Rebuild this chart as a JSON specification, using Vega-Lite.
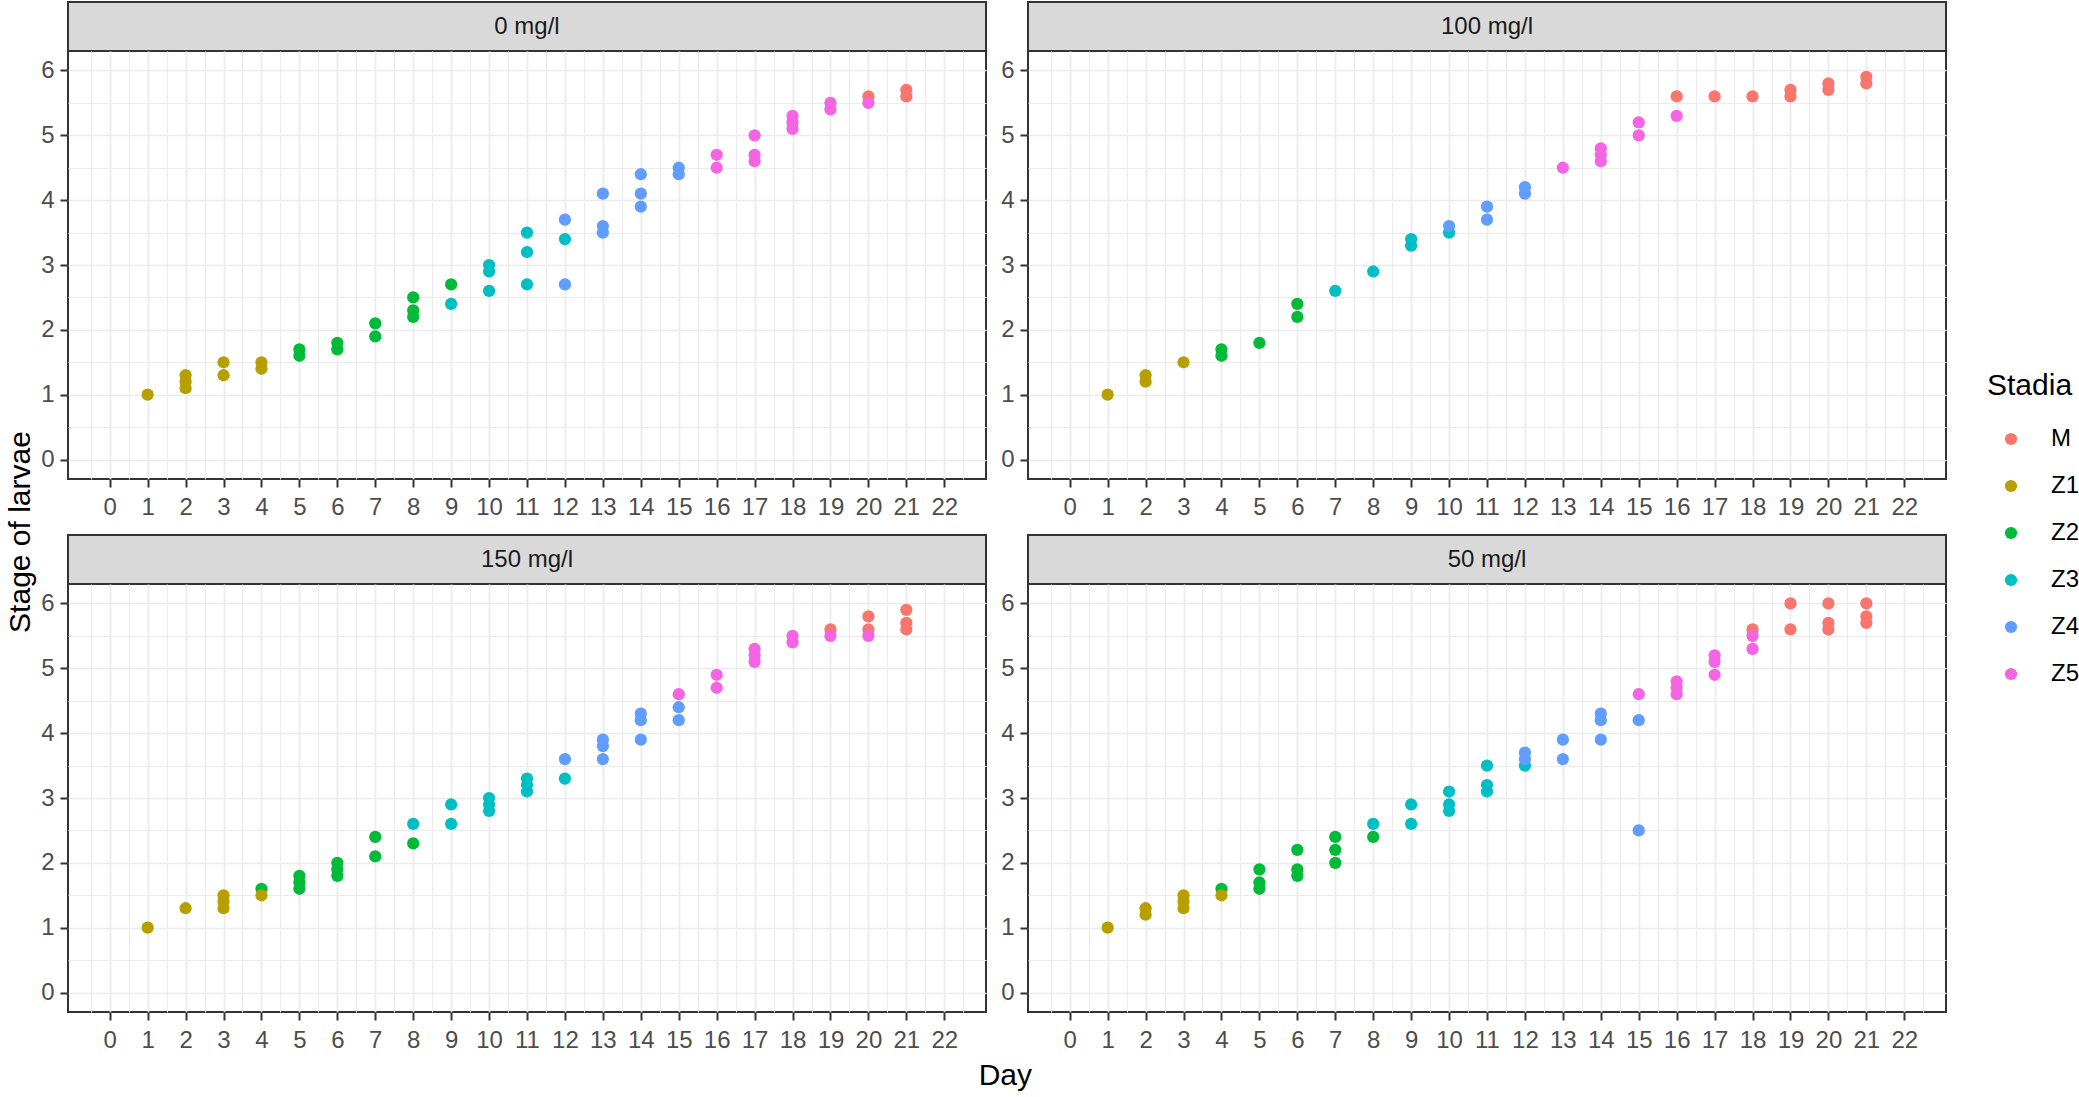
{
  "$schema": "https://vega.github.io/schema/vega-lite/v6.json",
  "background": "white",
  "padding": {"left": 5, "top": 1, "right": 2, "bottom": 5},
  "title": {"text": "Stage of larvae", "orient": "left", "anchor": "middle", "font": "Liberation Sans", "fontSize": 30, "fontWeight": "normal", "color": "#000000", "offset": 4, "dx": 14},
  "datasets": {
    "larvae": [
      {"conc": "0 mg/l", "day": 1, "stage": 1.0, "stadia": "Z1"},
      {"conc": "0 mg/l", "day": 2, "stage": 1.1, "stadia": "Z1"},
      {"conc": "0 mg/l", "day": 2, "stage": 1.2, "stadia": "Z1"},
      {"conc": "0 mg/l", "day": 2, "stage": 1.3, "stadia": "Z1"},
      {"conc": "0 mg/l", "day": 3, "stage": 1.3, "stadia": "Z1"},
      {"conc": "0 mg/l", "day": 3, "stage": 1.5, "stadia": "Z1"},
      {"conc": "0 mg/l", "day": 4, "stage": 1.4, "stadia": "Z1"},
      {"conc": "0 mg/l", "day": 4, "stage": 1.5, "stadia": "Z1"},
      {"conc": "0 mg/l", "day": 5, "stage": 1.6, "stadia": "Z2"},
      {"conc": "0 mg/l", "day": 5, "stage": 1.7, "stadia": "Z2"},
      {"conc": "0 mg/l", "day": 6, "stage": 1.7, "stadia": "Z2"},
      {"conc": "0 mg/l", "day": 6, "stage": 1.8, "stadia": "Z2"},
      {"conc": "0 mg/l", "day": 7, "stage": 1.9, "stadia": "Z2"},
      {"conc": "0 mg/l", "day": 7, "stage": 2.1, "stadia": "Z2"},
      {"conc": "0 mg/l", "day": 8, "stage": 2.2, "stadia": "Z2"},
      {"conc": "0 mg/l", "day": 8, "stage": 2.3, "stadia": "Z2"},
      {"conc": "0 mg/l", "day": 8, "stage": 2.5, "stadia": "Z2"},
      {"conc": "0 mg/l", "day": 9, "stage": 2.7, "stadia": "Z2"},
      {"conc": "0 mg/l", "day": 9, "stage": 2.4, "stadia": "Z3"},
      {"conc": "0 mg/l", "day": 10, "stage": 2.6, "stadia": "Z3"},
      {"conc": "0 mg/l", "day": 10, "stage": 2.9, "stadia": "Z3"},
      {"conc": "0 mg/l", "day": 10, "stage": 3.0, "stadia": "Z3"},
      {"conc": "0 mg/l", "day": 11, "stage": 2.7, "stadia": "Z3"},
      {"conc": "0 mg/l", "day": 11, "stage": 3.2, "stadia": "Z3"},
      {"conc": "0 mg/l", "day": 11, "stage": 3.5, "stadia": "Z3"},
      {"conc": "0 mg/l", "day": 12, "stage": 3.4, "stadia": "Z3"},
      {"conc": "0 mg/l", "day": 12, "stage": 2.7, "stadia": "Z4"},
      {"conc": "0 mg/l", "day": 12, "stage": 3.7, "stadia": "Z4"},
      {"conc": "0 mg/l", "day": 13, "stage": 3.5, "stadia": "Z4"},
      {"conc": "0 mg/l", "day": 13, "stage": 3.6, "stadia": "Z4"},
      {"conc": "0 mg/l", "day": 13, "stage": 4.1, "stadia": "Z4"},
      {"conc": "0 mg/l", "day": 14, "stage": 3.9, "stadia": "Z4"},
      {"conc": "0 mg/l", "day": 14, "stage": 4.1, "stadia": "Z4"},
      {"conc": "0 mg/l", "day": 14, "stage": 4.4, "stadia": "Z4"},
      {"conc": "0 mg/l", "day": 15, "stage": 4.4, "stadia": "Z4"},
      {"conc": "0 mg/l", "day": 15, "stage": 4.5, "stadia": "Z4"},
      {"conc": "0 mg/l", "day": 16, "stage": 4.5, "stadia": "Z5"},
      {"conc": "0 mg/l", "day": 16, "stage": 4.7, "stadia": "Z5"},
      {"conc": "0 mg/l", "day": 17, "stage": 4.6, "stadia": "Z5"},
      {"conc": "0 mg/l", "day": 17, "stage": 4.7, "stadia": "Z5"},
      {"conc": "0 mg/l", "day": 17, "stage": 5.0, "stadia": "Z5"},
      {"conc": "0 mg/l", "day": 18, "stage": 5.1, "stadia": "Z5"},
      {"conc": "0 mg/l", "day": 18, "stage": 5.2, "stadia": "Z5"},
      {"conc": "0 mg/l", "day": 18, "stage": 5.3, "stadia": "Z5"},
      {"conc": "0 mg/l", "day": 19, "stage": 5.4, "stadia": "Z5"},
      {"conc": "0 mg/l", "day": 19, "stage": 5.5, "stadia": "Z5"},
      {"conc": "0 mg/l", "day": 20, "stage": 5.6, "stadia": "M"},
      {"conc": "0 mg/l", "day": 20, "stage": 5.5, "stadia": "Z5"},
      {"conc": "0 mg/l", "day": 21, "stage": 5.6, "stadia": "M"},
      {"conc": "0 mg/l", "day": 21, "stage": 5.7, "stadia": "M"},

      {"conc": "100 mg/l", "day": 1, "stage": 1.0, "stadia": "Z1"},
      {"conc": "100 mg/l", "day": 2, "stage": 1.2, "stadia": "Z1"},
      {"conc": "100 mg/l", "day": 2, "stage": 1.3, "stadia": "Z1"},
      {"conc": "100 mg/l", "day": 3, "stage": 1.5, "stadia": "Z1"},
      {"conc": "100 mg/l", "day": 4, "stage": 1.6, "stadia": "Z2"},
      {"conc": "100 mg/l", "day": 4, "stage": 1.7, "stadia": "Z2"},
      {"conc": "100 mg/l", "day": 5, "stage": 1.8, "stadia": "Z2"},
      {"conc": "100 mg/l", "day": 6, "stage": 2.2, "stadia": "Z2"},
      {"conc": "100 mg/l", "day": 6, "stage": 2.4, "stadia": "Z2"},
      {"conc": "100 mg/l", "day": 7, "stage": 2.6, "stadia": "Z3"},
      {"conc": "100 mg/l", "day": 8, "stage": 2.9, "stadia": "Z3"},
      {"conc": "100 mg/l", "day": 9, "stage": 3.3, "stadia": "Z3"},
      {"conc": "100 mg/l", "day": 9, "stage": 3.4, "stadia": "Z3"},
      {"conc": "100 mg/l", "day": 10, "stage": 3.5, "stadia": "Z3"},
      {"conc": "100 mg/l", "day": 10, "stage": 3.6, "stadia": "Z4"},
      {"conc": "100 mg/l", "day": 11, "stage": 3.7, "stadia": "Z4"},
      {"conc": "100 mg/l", "day": 11, "stage": 3.9, "stadia": "Z4"},
      {"conc": "100 mg/l", "day": 12, "stage": 4.1, "stadia": "Z4"},
      {"conc": "100 mg/l", "day": 12, "stage": 4.2, "stadia": "Z4"},
      {"conc": "100 mg/l", "day": 13, "stage": 4.5, "stadia": "Z5"},
      {"conc": "100 mg/l", "day": 14, "stage": 4.6, "stadia": "Z5"},
      {"conc": "100 mg/l", "day": 14, "stage": 4.7, "stadia": "Z5"},
      {"conc": "100 mg/l", "day": 14, "stage": 4.8, "stadia": "Z5"},
      {"conc": "100 mg/l", "day": 15, "stage": 5.0, "stadia": "Z5"},
      {"conc": "100 mg/l", "day": 15, "stage": 5.2, "stadia": "Z5"},
      {"conc": "100 mg/l", "day": 16, "stage": 5.6, "stadia": "M"},
      {"conc": "100 mg/l", "day": 16, "stage": 5.3, "stadia": "Z5"},
      {"conc": "100 mg/l", "day": 17, "stage": 5.6, "stadia": "M"},
      {"conc": "100 mg/l", "day": 18, "stage": 5.6, "stadia": "M"},
      {"conc": "100 mg/l", "day": 19, "stage": 5.6, "stadia": "M"},
      {"conc": "100 mg/l", "day": 19, "stage": 5.7, "stadia": "M"},
      {"conc": "100 mg/l", "day": 20, "stage": 5.7, "stadia": "M"},
      {"conc": "100 mg/l", "day": 20, "stage": 5.8, "stadia": "M"},
      {"conc": "100 mg/l", "day": 21, "stage": 5.8, "stadia": "M"},
      {"conc": "100 mg/l", "day": 21, "stage": 5.9, "stadia": "M"},

      {"conc": "150 mg/l", "day": 1, "stage": 1.0, "stadia": "Z1"},
      {"conc": "150 mg/l", "day": 2, "stage": 1.3, "stadia": "Z1"},
      {"conc": "150 mg/l", "day": 3, "stage": 1.3, "stadia": "Z1"},
      {"conc": "150 mg/l", "day": 3, "stage": 1.4, "stadia": "Z1"},
      {"conc": "150 mg/l", "day": 3, "stage": 1.5, "stadia": "Z1"},
      {"conc": "150 mg/l", "day": 4, "stage": 1.6, "stadia": "Z2"},
      {"conc": "150 mg/l", "day": 4, "stage": 1.5, "stadia": "Z1"},
      {"conc": "150 mg/l", "day": 5, "stage": 1.6, "stadia": "Z2"},
      {"conc": "150 mg/l", "day": 5, "stage": 1.7, "stadia": "Z2"},
      {"conc": "150 mg/l", "day": 5, "stage": 1.8, "stadia": "Z2"},
      {"conc": "150 mg/l", "day": 6, "stage": 1.8, "stadia": "Z2"},
      {"conc": "150 mg/l", "day": 6, "stage": 1.9, "stadia": "Z2"},
      {"conc": "150 mg/l", "day": 6, "stage": 2.0, "stadia": "Z2"},
      {"conc": "150 mg/l", "day": 7, "stage": 2.1, "stadia": "Z2"},
      {"conc": "150 mg/l", "day": 7, "stage": 2.4, "stadia": "Z2"},
      {"conc": "150 mg/l", "day": 8, "stage": 2.3, "stadia": "Z2"},
      {"conc": "150 mg/l", "day": 8, "stage": 2.6, "stadia": "Z3"},
      {"conc": "150 mg/l", "day": 9, "stage": 2.6, "stadia": "Z3"},
      {"conc": "150 mg/l", "day": 9, "stage": 2.9, "stadia": "Z3"},
      {"conc": "150 mg/l", "day": 10, "stage": 2.8, "stadia": "Z3"},
      {"conc": "150 mg/l", "day": 10, "stage": 2.9, "stadia": "Z3"},
      {"conc": "150 mg/l", "day": 10, "stage": 3.0, "stadia": "Z3"},
      {"conc": "150 mg/l", "day": 11, "stage": 3.1, "stadia": "Z3"},
      {"conc": "150 mg/l", "day": 11, "stage": 3.2, "stadia": "Z3"},
      {"conc": "150 mg/l", "day": 11, "stage": 3.3, "stadia": "Z3"},
      {"conc": "150 mg/l", "day": 12, "stage": 3.3, "stadia": "Z3"},
      {"conc": "150 mg/l", "day": 12, "stage": 3.6, "stadia": "Z4"},
      {"conc": "150 mg/l", "day": 13, "stage": 3.6, "stadia": "Z4"},
      {"conc": "150 mg/l", "day": 13, "stage": 3.8, "stadia": "Z4"},
      {"conc": "150 mg/l", "day": 13, "stage": 3.9, "stadia": "Z4"},
      {"conc": "150 mg/l", "day": 14, "stage": 3.9, "stadia": "Z4"},
      {"conc": "150 mg/l", "day": 14, "stage": 4.2, "stadia": "Z4"},
      {"conc": "150 mg/l", "day": 14, "stage": 4.3, "stadia": "Z4"},
      {"conc": "150 mg/l", "day": 15, "stage": 4.2, "stadia": "Z4"},
      {"conc": "150 mg/l", "day": 15, "stage": 4.4, "stadia": "Z4"},
      {"conc": "150 mg/l", "day": 15, "stage": 4.6, "stadia": "Z5"},
      {"conc": "150 mg/l", "day": 16, "stage": 4.7, "stadia": "Z5"},
      {"conc": "150 mg/l", "day": 16, "stage": 4.9, "stadia": "Z5"},
      {"conc": "150 mg/l", "day": 17, "stage": 5.1, "stadia": "Z5"},
      {"conc": "150 mg/l", "day": 17, "stage": 5.2, "stadia": "Z5"},
      {"conc": "150 mg/l", "day": 17, "stage": 5.3, "stadia": "Z5"},
      {"conc": "150 mg/l", "day": 18, "stage": 5.4, "stadia": "Z5"},
      {"conc": "150 mg/l", "day": 18, "stage": 5.5, "stadia": "Z5"},
      {"conc": "150 mg/l", "day": 19, "stage": 5.6, "stadia": "M"},
      {"conc": "150 mg/l", "day": 19, "stage": 5.5, "stadia": "Z5"},
      {"conc": "150 mg/l", "day": 20, "stage": 5.6, "stadia": "M"},
      {"conc": "150 mg/l", "day": 20, "stage": 5.8, "stadia": "M"},
      {"conc": "150 mg/l", "day": 20, "stage": 5.5, "stadia": "Z5"},
      {"conc": "150 mg/l", "day": 21, "stage": 5.6, "stadia": "M"},
      {"conc": "150 mg/l", "day": 21, "stage": 5.7, "stadia": "M"},
      {"conc": "150 mg/l", "day": 21, "stage": 5.9, "stadia": "M"},

      {"conc": "50 mg/l", "day": 1, "stage": 1.0, "stadia": "Z1"},
      {"conc": "50 mg/l", "day": 2, "stage": 1.2, "stadia": "Z1"},
      {"conc": "50 mg/l", "day": 2, "stage": 1.3, "stadia": "Z1"},
      {"conc": "50 mg/l", "day": 3, "stage": 1.3, "stadia": "Z1"},
      {"conc": "50 mg/l", "day": 3, "stage": 1.4, "stadia": "Z1"},
      {"conc": "50 mg/l", "day": 3, "stage": 1.5, "stadia": "Z1"},
      {"conc": "50 mg/l", "day": 4, "stage": 1.6, "stadia": "Z2"},
      {"conc": "50 mg/l", "day": 4, "stage": 1.5, "stadia": "Z1"},
      {"conc": "50 mg/l", "day": 5, "stage": 1.6, "stadia": "Z2"},
      {"conc": "50 mg/l", "day": 5, "stage": 1.7, "stadia": "Z2"},
      {"conc": "50 mg/l", "day": 5, "stage": 1.9, "stadia": "Z2"},
      {"conc": "50 mg/l", "day": 6, "stage": 1.8, "stadia": "Z2"},
      {"conc": "50 mg/l", "day": 6, "stage": 1.9, "stadia": "Z2"},
      {"conc": "50 mg/l", "day": 6, "stage": 2.2, "stadia": "Z2"},
      {"conc": "50 mg/l", "day": 7, "stage": 2.0, "stadia": "Z2"},
      {"conc": "50 mg/l", "day": 7, "stage": 2.2, "stadia": "Z2"},
      {"conc": "50 mg/l", "day": 7, "stage": 2.4, "stadia": "Z2"},
      {"conc": "50 mg/l", "day": 8, "stage": 2.4, "stadia": "Z2"},
      {"conc": "50 mg/l", "day": 8, "stage": 2.6, "stadia": "Z3"},
      {"conc": "50 mg/l", "day": 9, "stage": 2.6, "stadia": "Z3"},
      {"conc": "50 mg/l", "day": 9, "stage": 2.9, "stadia": "Z3"},
      {"conc": "50 mg/l", "day": 10, "stage": 2.8, "stadia": "Z3"},
      {"conc": "50 mg/l", "day": 10, "stage": 2.9, "stadia": "Z3"},
      {"conc": "50 mg/l", "day": 10, "stage": 3.1, "stadia": "Z3"},
      {"conc": "50 mg/l", "day": 11, "stage": 3.1, "stadia": "Z3"},
      {"conc": "50 mg/l", "day": 11, "stage": 3.2, "stadia": "Z3"},
      {"conc": "50 mg/l", "day": 11, "stage": 3.5, "stadia": "Z3"},
      {"conc": "50 mg/l", "day": 12, "stage": 3.5, "stadia": "Z3"},
      {"conc": "50 mg/l", "day": 12, "stage": 3.6, "stadia": "Z4"},
      {"conc": "50 mg/l", "day": 12, "stage": 3.7, "stadia": "Z4"},
      {"conc": "50 mg/l", "day": 13, "stage": 3.6, "stadia": "Z4"},
      {"conc": "50 mg/l", "day": 13, "stage": 3.9, "stadia": "Z4"},
      {"conc": "50 mg/l", "day": 14, "stage": 3.9, "stadia": "Z4"},
      {"conc": "50 mg/l", "day": 14, "stage": 4.2, "stadia": "Z4"},
      {"conc": "50 mg/l", "day": 14, "stage": 4.3, "stadia": "Z4"},
      {"conc": "50 mg/l", "day": 15, "stage": 2.5, "stadia": "Z4"},
      {"conc": "50 mg/l", "day": 15, "stage": 4.2, "stadia": "Z4"},
      {"conc": "50 mg/l", "day": 15, "stage": 4.6, "stadia": "Z5"},
      {"conc": "50 mg/l", "day": 16, "stage": 4.6, "stadia": "Z5"},
      {"conc": "50 mg/l", "day": 16, "stage": 4.7, "stadia": "Z5"},
      {"conc": "50 mg/l", "day": 16, "stage": 4.8, "stadia": "Z5"},
      {"conc": "50 mg/l", "day": 17, "stage": 4.9, "stadia": "Z5"},
      {"conc": "50 mg/l", "day": 17, "stage": 5.1, "stadia": "Z5"},
      {"conc": "50 mg/l", "day": 17, "stage": 5.2, "stadia": "Z5"},
      {"conc": "50 mg/l", "day": 18, "stage": 5.6, "stadia": "M"},
      {"conc": "50 mg/l", "day": 18, "stage": 5.5, "stadia": "Z5"},
      {"conc": "50 mg/l", "day": 18, "stage": 5.3, "stadia": "Z5"},
      {"conc": "50 mg/l", "day": 19, "stage": 5.6, "stadia": "M"},
      {"conc": "50 mg/l", "day": 19, "stage": 6.0, "stadia": "M"},
      {"conc": "50 mg/l", "day": 20, "stage": 5.6, "stadia": "M"},
      {"conc": "50 mg/l", "day": 20, "stage": 5.7, "stadia": "M"},
      {"conc": "50 mg/l", "day": 20, "stage": 6.0, "stadia": "M"},
      {"conc": "50 mg/l", "day": 21, "stage": 5.7, "stadia": "M"},
      {"conc": "50 mg/l", "day": 21, "stage": 5.8, "stadia": "M"},
      {"conc": "50 mg/l", "day": 21, "stage": 6.0, "stadia": "M"}
    ]
  },
  "vconcat": [
    {
      "title": {"text": "Day", "orient": "bottom", "anchor": "middle", "font": "Liberation Sans", "fontSize": 30, "fontWeight": "normal", "color": "#000000", "offset": 8, "dx": 12},
      "spacing": 14,
      "vconcat": [
        {
          "spacing": 12,
          "hconcat": [
            {
              "bounds": "flush",
              "spacing": 0,
              "vconcat": [
                {
                  "width": 918, "height": 49,
                  "data": {"name": "larvae"},
                  "transform": [{"filter": {"field": "conc", "equal": "0 mg/l"}}, {"aggregate": [{"op": "count", "as": "n"}], "groupby": ["conc"]}],
                  "mark": {"type": "text", "fontSize": 24, "color": "#1A1A1A", "font": "Liberation Sans"},
                  "encoding": {"text": {"field": "conc", "type": "nominal"}},
                  "view": {"fill": "#D9D9D9", "stroke": "#333333", "strokeWidth": 2}
                },
                {
                  "width": 918, "height": 428,
                  "data": {"name": "larvae"},
                  "transform": [{"filter": {"field": "conc", "equal": "0 mg/l"}}],
                  "mark": {"type": "circle", "size": 150, "opacity": 1},
                  "encoding": {
                    "x": {"field": "day", "type": "quantitative", "scale": {"domain": [-1.1, 23.1], "nice": false, "zero": false},
                      "axis": {"title": null, "values": [-0.5,0,0.5,1,1.5,2,2.5,3,3.5,4,4.5,5,5.5,6,6.5,7,7.5,8,8.5,9,9.5,10,10.5,11,11.5,12,12.5,13,13.5,14,14.5,15,15.5,16,16.5,17,17.5,18,18.5,19,19.5,20,20.5,21,21.5,22,22.5],
                        "labelExpr": "datum.value % 1 === 0 ? '' + datum.value : ''", "labelPadding": 8,
                        "tickOpacity": {"condition": {"test": "datum.value % 1 !== 0", "value": 0}, "value": 1},
                        "gridWidth": {"condition": {"test": "datum.value % 1 !== 0", "value": 1.1}, "value": 1.7}}},
                    "y": {"field": "stage", "type": "quantitative", "scale": {"domain": [-0.3, 6.3], "nice": false, "zero": false},
                      "axis": {"title": null, "values": [0,0.5,1,1.5,2,2.5,3,3.5,4,4.5,5,5.5,6],
                        "labelExpr": "datum.value % 1 === 0 ? '' + datum.value : ''", "labelPadding": 6,
                        "tickOpacity": {"condition": {"test": "datum.value % 1 !== 0", "value": 0}, "value": 1},
                        "gridWidth": {"condition": {"test": "datum.value % 1 !== 0", "value": 1.1}, "value": 1.7}}},
                    "color": {"field": "stadia", "type": "nominal", "scale": {"domain": ["M","Z1","Z2","Z3","Z4","Z5"], "range": ["#F8766D","#B79F00","#00BA38","#00BFC4","#619CFF","#F564E3"]},
                      "legend": {"title": "Stadia", "orient": "none", "legendX": 1919, "legendY": 369}}
                  }
                }
              ]
            },
            {
              "bounds": "flush",
              "spacing": 0,
              "vconcat": [
                {
                  "width": 918, "height": 49,
                  "data": {"name": "larvae"},
                  "transform": [{"filter": {"field": "conc", "equal": "100 mg/l"}}, {"aggregate": [{"op": "count", "as": "n"}], "groupby": ["conc"]}],
                  "mark": {"type": "text", "fontSize": 24, "color": "#1A1A1A", "font": "Liberation Sans"},
                  "encoding": {"text": {"field": "conc", "type": "nominal"}},
                  "view": {"fill": "#D9D9D9", "stroke": "#333333", "strokeWidth": 2}
                },
                {
                  "width": 918, "height": 428,
                  "data": {"name": "larvae"},
                  "transform": [{"filter": {"field": "conc", "equal": "100 mg/l"}}],
                  "mark": {"type": "circle", "size": 150, "opacity": 1},
                  "encoding": {
                    "x": {"field": "day", "type": "quantitative", "scale": {"domain": [-1.1, 23.1], "nice": false, "zero": false},
                      "axis": {"title": null, "values": [-0.5,0,0.5,1,1.5,2,2.5,3,3.5,4,4.5,5,5.5,6,6.5,7,7.5,8,8.5,9,9.5,10,10.5,11,11.5,12,12.5,13,13.5,14,14.5,15,15.5,16,16.5,17,17.5,18,18.5,19,19.5,20,20.5,21,21.5,22,22.5],
                        "labelExpr": "datum.value % 1 === 0 ? '' + datum.value : ''", "labelPadding": 8,
                        "tickOpacity": {"condition": {"test": "datum.value % 1 !== 0", "value": 0}, "value": 1},
                        "gridWidth": {"condition": {"test": "datum.value % 1 !== 0", "value": 1.1}, "value": 1.7}}},
                    "y": {"field": "stage", "type": "quantitative", "scale": {"domain": [-0.3, 6.3], "nice": false, "zero": false},
                      "axis": {"title": null, "values": [0,0.5,1,1.5,2,2.5,3,3.5,4,4.5,5,5.5,6],
                        "labelExpr": "datum.value % 1 === 0 ? '' + datum.value : ''", "labelPadding": 6,
                        "tickOpacity": {"condition": {"test": "datum.value % 1 !== 0", "value": 0}, "value": 1},
                        "gridWidth": {"condition": {"test": "datum.value % 1 !== 0", "value": 1.1}, "value": 1.7}}},
                    "color": {"field": "stadia", "type": "nominal", "scale": {"domain": ["M","Z1","Z2","Z3","Z4","Z5"], "range": ["#F8766D","#B79F00","#00BA38","#00BFC4","#619CFF","#F564E3"]},
                      "legend": {"title": "Stadia", "orient": "none", "legendX": 1919, "legendY": 369}}
                  }
                }
              ]
            }
          ]
        },
        {
          "spacing": 12,
          "hconcat": [
            {
              "bounds": "flush",
              "spacing": 0,
              "vconcat": [
                {
                  "width": 918, "height": 49,
                  "data": {"name": "larvae"},
                  "transform": [{"filter": {"field": "conc", "equal": "150 mg/l"}}, {"aggregate": [{"op": "count", "as": "n"}], "groupby": ["conc"]}],
                  "mark": {"type": "text", "fontSize": 24, "color": "#1A1A1A", "font": "Liberation Sans"},
                  "encoding": {"text": {"field": "conc", "type": "nominal"}},
                  "view": {"fill": "#D9D9D9", "stroke": "#333333", "strokeWidth": 2}
                },
                {
                  "width": 918, "height": 428,
                  "data": {"name": "larvae"},
                  "transform": [{"filter": {"field": "conc", "equal": "150 mg/l"}}],
                  "mark": {"type": "circle", "size": 150, "opacity": 1},
                  "encoding": {
                    "x": {"field": "day", "type": "quantitative", "scale": {"domain": [-1.1, 23.1], "nice": false, "zero": false},
                      "axis": {"title": null, "values": [-0.5,0,0.5,1,1.5,2,2.5,3,3.5,4,4.5,5,5.5,6,6.5,7,7.5,8,8.5,9,9.5,10,10.5,11,11.5,12,12.5,13,13.5,14,14.5,15,15.5,16,16.5,17,17.5,18,18.5,19,19.5,20,20.5,21,21.5,22,22.5],
                        "labelExpr": "datum.value % 1 === 0 ? '' + datum.value : ''", "labelPadding": 8,
                        "tickOpacity": {"condition": {"test": "datum.value % 1 !== 0", "value": 0}, "value": 1},
                        "gridWidth": {"condition": {"test": "datum.value % 1 !== 0", "value": 1.1}, "value": 1.7}}},
                    "y": {"field": "stage", "type": "quantitative", "scale": {"domain": [-0.3, 6.3], "nice": false, "zero": false},
                      "axis": {"title": null, "values": [0,0.5,1,1.5,2,2.5,3,3.5,4,4.5,5,5.5,6],
                        "labelExpr": "datum.value % 1 === 0 ? '' + datum.value : ''", "labelPadding": 6,
                        "tickOpacity": {"condition": {"test": "datum.value % 1 !== 0", "value": 0}, "value": 1},
                        "gridWidth": {"condition": {"test": "datum.value % 1 !== 0", "value": 1.1}, "value": 1.7}}},
                    "color": {"field": "stadia", "type": "nominal", "scale": {"domain": ["M","Z1","Z2","Z3","Z4","Z5"], "range": ["#F8766D","#B79F00","#00BA38","#00BFC4","#619CFF","#F564E3"]},
                      "legend": {"title": "Stadia", "orient": "none", "legendX": 1919, "legendY": 369}}
                  }
                }
              ]
            },
            {
              "bounds": "flush",
              "spacing": 0,
              "vconcat": [
                {
                  "width": 918, "height": 49,
                  "data": {"name": "larvae"},
                  "transform": [{"filter": {"field": "conc", "equal": "50 mg/l"}}, {"aggregate": [{"op": "count", "as": "n"}], "groupby": ["conc"]}],
                  "mark": {"type": "text", "fontSize": 24, "color": "#1A1A1A", "font": "Liberation Sans"},
                  "encoding": {"text": {"field": "conc", "type": "nominal"}},
                  "view": {"fill": "#D9D9D9", "stroke": "#333333", "strokeWidth": 2}
                },
                {
                  "width": 918, "height": 428,
                  "data": {"name": "larvae"},
                  "transform": [{"filter": {"field": "conc", "equal": "50 mg/l"}}],
                  "mark": {"type": "circle", "size": 150, "opacity": 1},
                  "encoding": {
                    "x": {"field": "day", "type": "quantitative", "scale": {"domain": [-1.1, 23.1], "nice": false, "zero": false},
                      "axis": {"title": null, "values": [-0.5,0,0.5,1,1.5,2,2.5,3,3.5,4,4.5,5,5.5,6,6.5,7,7.5,8,8.5,9,9.5,10,10.5,11,11.5,12,12.5,13,13.5,14,14.5,15,15.5,16,16.5,17,17.5,18,18.5,19,19.5,20,20.5,21,21.5,22,22.5],
                        "labelExpr": "datum.value % 1 === 0 ? '' + datum.value : ''", "labelPadding": 8,
                        "tickOpacity": {"condition": {"test": "datum.value % 1 !== 0", "value": 0}, "value": 1},
                        "gridWidth": {"condition": {"test": "datum.value % 1 !== 0", "value": 1.1}, "value": 1.7}}},
                    "y": {"field": "stage", "type": "quantitative", "scale": {"domain": [-0.3, 6.3], "nice": false, "zero": false},
                      "axis": {"title": null, "values": [0,0.5,1,1.5,2,2.5,3,3.5,4,4.5,5,5.5,6],
                        "labelExpr": "datum.value % 1 === 0 ? '' + datum.value : ''", "labelPadding": 6,
                        "tickOpacity": {"condition": {"test": "datum.value % 1 !== 0", "value": 0}, "value": 1},
                        "gridWidth": {"condition": {"test": "datum.value % 1 !== 0", "value": 1.1}, "value": 1.7}}},
                    "color": {"field": "stadia", "type": "nominal", "scale": {"domain": ["M","Z1","Z2","Z3","Z4","Z5"], "range": ["#F8766D","#B79F00","#00BA38","#00BFC4","#619CFF","#F564E3"]},
                      "legend": {"title": "Stadia", "orient": "none", "legendX": 1919, "legendY": 369}}
                  }
                }
              ]
            }
          ]
        }
      ]
    }
  ],
  "config": {
    "font": "Liberation Sans",
    "view": {"fill": "white", "stroke": "#333333", "strokeWidth": 2},
    "axis": {
      "labelFont": "Liberation Sans", "labelFontSize": 24, "labelColor": "#4D4D4D",
      "labelOverlap": false, "labelFlush": false,
      "tickColor": "#333333", "tickWidth": 2, "tickSize": 8,
      "domain": false, "grid": true, "gridColor": "#EBEBEB",
      "titleFont": "Liberation Sans", "titleFontSize": 30, "titleFontWeight": "normal", "titleColor": "#000000"
    },
    "legend": {
      "titleFont": "Liberation Sans", "titleFontSize": 30, "titleFontWeight": "normal", "titleColor": "#000000", "titlePadding": 26,
      "labelFont": "Liberation Sans", "labelFontSize": 24, "labelColor": "#000000", "labelOffset": 28,
      "symbolType": "circle", "symbolSize": 150, "symbolOffset": 12, "symbolStrokeWidth": 0, "symbolOpacity": 1,
      "rowPadding": 23
    }
  }
}
